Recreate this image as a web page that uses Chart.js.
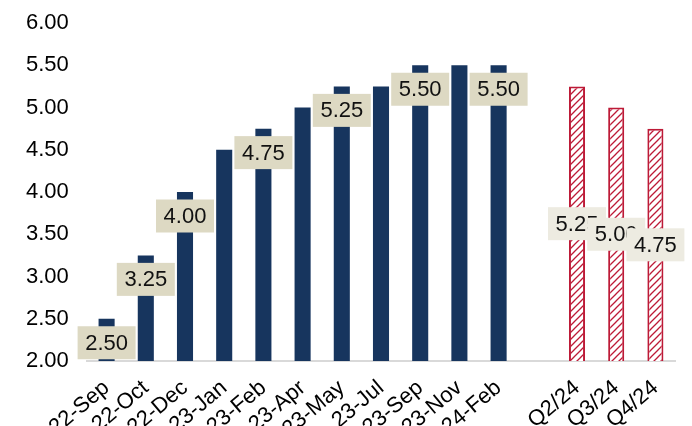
<!DOCTYPE html>
<html>
<head>
<meta charset="utf-8">
<script src="https://cdn.jsdelivr.net/npm/chart.js@4"></script>
<style>
  html, body { margin: 0; padding: 0; background: #fff; overflow: hidden; }
  #wrap { width: 692px; height: 426px; }
</style>
</head>
<body>
<div id="wrap"><canvas id="chart" width="692" height="426"></canvas></div>
<script>
// Fechas de decisión y trimestres de previsión
const fechas = ['22-Sep', '22-Oct', '22-Dec', '23-Jan', '23-Feb', '23-Apr', '23-May', '23-Jul', '23-Sep', '23-Nov', '24-Feb'];
const trimestres = ['Q2/24', 'Q3/24', 'Q4/24'];
// Tipo oficial (%) y previsión
const tipos = [2.50, 3.25, 4.00, 4.50, 4.75, 5.00, 5.25, 5.25, 5.50, 5.50, 5.50];
const previsiones = [5.25, 5.00, 4.75];
// Barras que llevan etiqueta
const conEtiqueta = ['22-Sep', '22-Oct', '22-Dec', '23-Feb', '23-May', '23-Sep', '24-Feb', 'Q2/24', 'Q3/24', 'Q4/24'];
// Eje Y
const yMin = 2.00, yMax = 6.00, yPaso = 0.50;

// Un hueco vacío entre los datos reales y la previsión
const categorias = fechas.concat([''], trimestres);
const valores = tipos.concat([null], previsiones);

const AZUL = '#17355e';
const ROJO = '#bd1a37';
const FUENTE = '"Liberation Sans", Arial, sans-serif';

// Patrón rayado para la previsión
function rayado() {
    const n = 7;
    const c = document.createElement('canvas');
    c.width = n; c.height = n;
    const g = c.getContext('2d');
    g.fillStyle = '#fff';
    g.fillRect(0, 0, n, n);
    g.strokeStyle = ROJO;
    g.lineWidth = 1.3;
    g.beginPath();
    g.moveTo(-1, n + 1); g.lineTo(n + 1, -1);
    g.moveTo(-1, 1); g.lineTo(1, -1);
    g.moveTo(n - 1, n + 1); g.lineTo(n + 1, n - 1);
    g.stroke();
    return g.createPattern(c, 'repeat');
}
const patron = rayado();
const esPrevision = i => trimestres.includes(categorias[i]);

// Etiquetas con caja de fondo
const etiquetas = {
    id: 'etiquetas',
    afterDatasetsDraw(chart) {
        const ctx = chart.ctx;
        const meta = chart.getDatasetMeta(0);
        const fondo = chart.scales.y.getPixelForValue(yMin);
        ctx.save();
        ctx.font = '22px ' + FUENTE;
        ctx.textAlign = 'center';
        ctx.textBaseline = 'middle';
        meta.data.forEach((bar, i) => {
            if (valores[i] == null || !conEtiqueta.includes(categorias[i])) return;
            const prev = esPrevision(i);
            const cy = prev ? (bar.y + fondo) / 2 : bar.y + 24;
            ctx.fillStyle = prev ? '#edebe1' : '#ddd9c3';
            ctx.fillRect(bar.x - 29, cy - 16.5, 58, 33);
            ctx.fillStyle = '#111';
            ctx.fillText(valores[i].toFixed(2), bar.x, cy + 1);
        });
        ctx.restore();
    }
};

new Chart(document.getElementById('chart').getContext('2d'), {
    type: 'bar',
    data: {
        labels: categorias,
        datasets: [{
            data: valores,
            backgroundColor: ctx => esPrevision(ctx.dataIndex) ? patron : AZUL,
            borderColor: ctx => esPrevision(ctx.dataIndex) ? ROJO : AZUL,
            borderWidth: ctx => esPrevision(ctx.dataIndex) ? 2 : 0,
            borderSkipped: false,
            barPercentage: 0.41,
            categoryPercentage: 1
        }]
    },
    options: {
        responsive: false,
        animation: false,
        devicePixelRatio: 1,
        layout: { padding: { top: 23, right: 17, left: 26, bottom: 0 } },
        plugins: {
            legend: { display: false },
            tooltip: { enabled: false }
        },
        scales: {
            x: {
                grid: { display: false, drawTicks: false },
                border: { display: true, color: '#d9d9d9', width: 2 },
                ticks: {
                    autoSkip: false,
                    minRotation: 40,
                    maxRotation: 40,
                    padding: 14,
                    color: '#000',
                    font: { size: 22, family: FUENTE }
                },
                afterFit: s => { s.height = 65; }
            },
            y: {
                min: yMin,
                max: yMax,
                grid: { display: false, drawTicks: false },
                border: { display: false },
                ticks: {
                    stepSize: yPaso,
                    padding: 0,
                    crossAlign: 'far',
                    color: '#000',
                    font: { size: 22, family: FUENTE },
                    callback: v => v.toFixed(2)
                },
                afterFit: s => { s.width = 61; }
            }
        }
    },
    plugins: [etiquetas]
});
</script>
</body>
</html>
